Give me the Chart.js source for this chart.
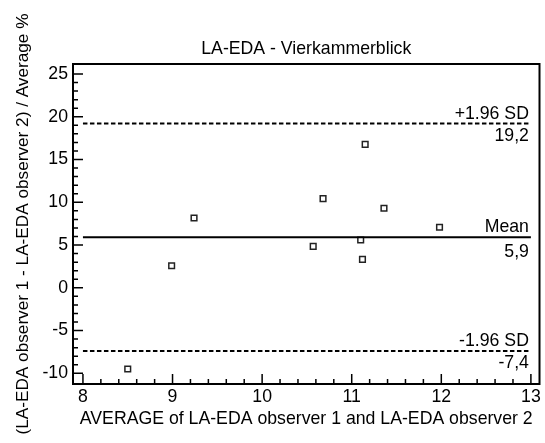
<!DOCTYPE html>
<html>
<head>
<meta charset="utf-8">
<script src="https://cdn.jsdelivr.net/npm/chart.js@4"></script>
<style>
  body { margin: 0; background: #fff; }
  #wrap { width: 545px; height: 443px; }
</style>
</head>
<body>
<div id="wrap"><canvas id="myChart" width="545" height="443"></canvas></div>
<script>
// Bland-Altman data
let averages = [11.15, 9.24, 8.99, 10.68, 10.57, 11.10, 11.12, 11.36, 11.98, 8.50];
let differences = [16.78, 8.16, 2.58, 10.42, 4.85, 5.59, 3.33, 9.30, 7.08, -9.50];

let limitNames = ["+1.96 SD", "Mean", "-1.96 SD"];
let limitValues = [19.2, 5.9, -7.4];

let xTicks = [8, 9, 10, 11, 12, 13];
let yTicks = [-10, -5, 0, 5, 10, 15, 20, 25];

const FONT = '"Liberation Sans", Arial, sans-serif';
const SIZE = 17.7;
Chart.defaults.color = "#000";
Chart.defaults.font.family = FONT;
Chart.defaults.font.size = SIZE;

let points = averages.map((a, i) => ({ x: a, y: differences[i] }));

let datasets = limitValues.map((v, i) => ({
  type: "line",
  data: [
    { x: xTicks[0], y: v },
    { x: xTicks[xTicks.length - 1], y: v },
  ],
  borderColor: "#000",
  borderWidth: 2,
  borderDash: i === 1 ? [] : [4.5, 2.5],
  pointRadius: 0,
  fill: false,
}));
datasets.push({
  type: "scatter",
  data: points,
  pointStyle: "rect",
  radius: 4,
  borderWidth: 1.5,
  borderColor: "#222",
  backgroundColor: "#fff",
});

// frame box and inward tick marks
const frame = {
  id: "frame",
  beforeDatasetsDraw(chart) {
    const { ctx, chartArea: a, scales } = chart;
    ctx.save();
    ctx.strokeStyle = "#000";
    ctx.lineWidth = 1.5;
    ctx.beginPath();
    for (let k = 0; k <= (yTicks[yTicks.length - 1] - yTicks[0]); k++) {
      const v = yTicks[0] + k;
      const py = scales.y.getPixelForValue(v);
      const len = yTicks.includes(v) ? 10 : 5;
      ctx.moveTo(a.left, py);
      ctx.lineTo(a.left + len, py);
    }
    for (let k = 0; k <= (xTicks[xTicks.length - 1] - xTicks[0]) * 5; k++) {
      const v = xTicks[0] + k / 5;
      const px = scales.x.getPixelForValue(v);
      const len = k % 5 === 0 ? 10 : 5;
      ctx.moveTo(px, a.bottom);
      ctx.lineTo(px, a.bottom - len);
    }
    ctx.stroke();
    ctx.lineWidth = 2;
    ctx.strokeRect(a.left, a.top, a.right - a.left, a.bottom - a.top);
    ctx.restore();
  },
  afterDatasetsDraw(chart) {
    const { ctx, scales } = chart;
    ctx.save();
    ctx.font = SIZE + "px " + FONT;
    ctx.fillStyle = "#000";
    ctx.textAlign = "right";
    ctx.textBaseline = "alphabetic";
    const xr = scales.x.getPixelForValue(xTicks[xTicks.length - 1]) - 2;
    limitValues.forEach((v, i) => {
      const py = scales.y.getPixelForValue(v);
      ctx.fillText(limitNames[i], xr, py - 5);
      ctx.fillText(v.toFixed(1).replace(".", ","), xr, py + (i === 1 ? 20 : 17));
    });
    ctx.restore();
  },
};

var ctx = document.getElementById("myChart");
var chart = new Chart(ctx, {
  data: { datasets: datasets },
  plugins: [frame],
  options: {
    responsive: false,
    animation: false,
    layout: { padding: { left: 0, right: 2, top: 0, bottom: 0 } },
    plugins: {
      legend: { display: false },
      tooltip: { enabled: false },
      title: {
        display: true,
        text: "LA-EDA - Vierkammerblick",
        fullSize: false,
        color: "#000",
        font: { size: SIZE, weight: "normal", family: FONT },
        padding: { top: 38.7, bottom: 4.06 },
      },
    },
    scales: {
      x: {
        type: "linear",
        min: 7.889,
        max: 13.096,
        afterBuildTicks: (s) => { s.ticks = xTicks.map((v) => ({ value: v })); },
        afterFit: (s) => { s.height = 59; },
        grid: { display: false, drawTicks: false },
        border: { display: false },
        ticks: { padding: 2.9, maxRotation: 0, autoSkip: false },
        title: {
          display: true,
          text: "AVERAGE of LA-EDA observer 1 and LA-EDA observer 2",
          padding: { top: 0, bottom: 13.2 },
        },
      },
      y: {
        type: "linear",
        min: -11.25,
        max: 26.17,
        afterBuildTicks: (s) => { s.ticks = yTicks.map((v) => ({ value: v })); },
        afterFit: (s) => { s.width = 73; },
        grid: { display: false, drawTicks: false },
        border: { display: false },
        ticks: { padding: 5, autoSkip: false },
        title: {
          display: true,
          text: "(LA-EDA observer 1 - LA-EDA observer 2) / Average %",
          font: { size: 17.2 },
          padding: { top: 13, bottom: 0 },
        },
      },
    },
  },
});
</script>
</body>
</html>
